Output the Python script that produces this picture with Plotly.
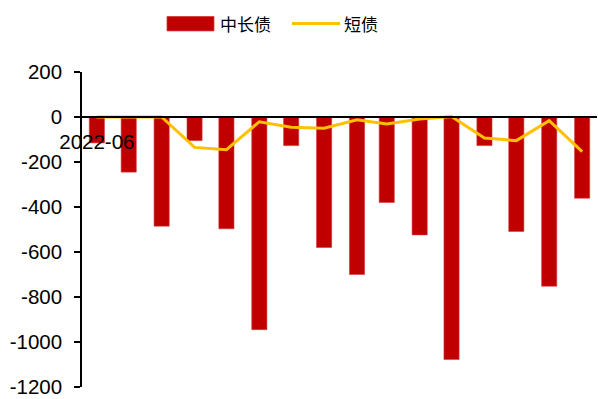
import plotly.graph_objects as go

months = ["2022-06", "2022-07", "2022-08", "2022-09", "2022-10", "2022-11", "2022-12", "2023-01",
          "2023-02", "2023-03", "2023-04", "2023-05", "2023-06", "2023-07", "2023-08", "2023-09"]
mid_long = [-115, -245, -485, -105, -497, -945, -127, -580, -700, -380, -524, -1078, -127, -509, -752, -361]
short = [0, 0, 0, -135, -145, -21, -46, -50, -12, -31, -9, 2, -93, -105, -16, -154]
x_ticks = ["2022-06"]
y_ticks = [200, 0, -200, -400, -600, -800, -1000, -1200]
y_tick_text = ["200", "0", "-200", "-400", "-600", "-800", "-1000", "-1200"]
series_names = ["中长债", "短债"]
bar_color = "#C00000"
line_color = "#FFC000"

W, H = 598, 399
L, R, T, B = 82, 1, 72, 9
pw, ph = W - L - R, H - T - B


def px_x(p):
    return (p - L) / pw


def px_y(p):
    return (H - B - p) / ph


fig = go.Figure()
fig.add_trace(go.Bar(x=months, y=mid_long, name=series_names[0],
                     marker=dict(color=bar_color, line=dict(color="#D43A3A", width=0.6))))
fig.add_trace(go.Scatter(x=months, y=short, name=series_names[1], mode="lines",
                         line=dict(color=line_color, width=3)))

# custom legend (wide swatches like the reference)
shapes = [
    dict(type="rect", xref="paper", yref="paper", x0=px_x(167), x1=px_x(214), y0=px_y(30.5), y1=px_y(16),
         fillcolor=bar_color, line=dict(color="#D43A3A", width=0.8)),
    dict(type="line", xref="paper", yref="paper", x0=px_x(292), x1=px_x(340), y0=px_y(23), y1=px_y(23),
         line=dict(color=line_color, width=3)),
]
annotations = [
    dict(text=series_names[0], xref="paper", yref="paper", x=px_x(218), y=px_y(23), xanchor="left",
         yanchor="middle", showarrow=False, font=dict(family="Noto Sans CJK SC", size=17, color="#000")),
    dict(text=series_names[1], xref="paper", yref="paper", x=px_x(342), y=px_y(23), xanchor="left",
         yanchor="middle", showarrow=False, font=dict(family="Noto Sans CJK SC", size=17, color="#000")),
]

fig.update_layout(
    width=W, height=H,
    margin=dict(l=L, r=R, t=T, b=B),
    paper_bgcolor="white", plot_bgcolor="white",
    bargap=0.49,
    showlegend=False,
    shapes=shapes,
    annotations=annotations,
    font=dict(family="Liberation Sans, Arial", size=20, color="#000"),
)
fig.update_yaxes(range=[-1200, 200], tickvals=y_ticks, ticktext=y_tick_text,
                 showgrid=False, zeroline=False, showline=True, linecolor="#000", linewidth=1.5,
                 ticks="outside", ticklen=6, tickcolor="#000", tickwidth=1.5,
                 ticklabelstandoff=8, ticklabeloverflow="allow",
                 tickfont=dict(family="Liberation Sans, Arial", size=20.5, color="#000"))
fig.update_xaxes(anchor="free", position=1200 / 1400, showgrid=False, showline=True, linecolor="#000",
                 linewidth=1.5, layer="above traces", ticks="", tickvals=x_ticks, ticktext=x_ticks,
                 tickangle=0, ticklabelstandoff=7,
                 tickfont=dict(family="Liberation Sans, Arial", size=20.5, color="#000"))

fig.write_html("out.html")
